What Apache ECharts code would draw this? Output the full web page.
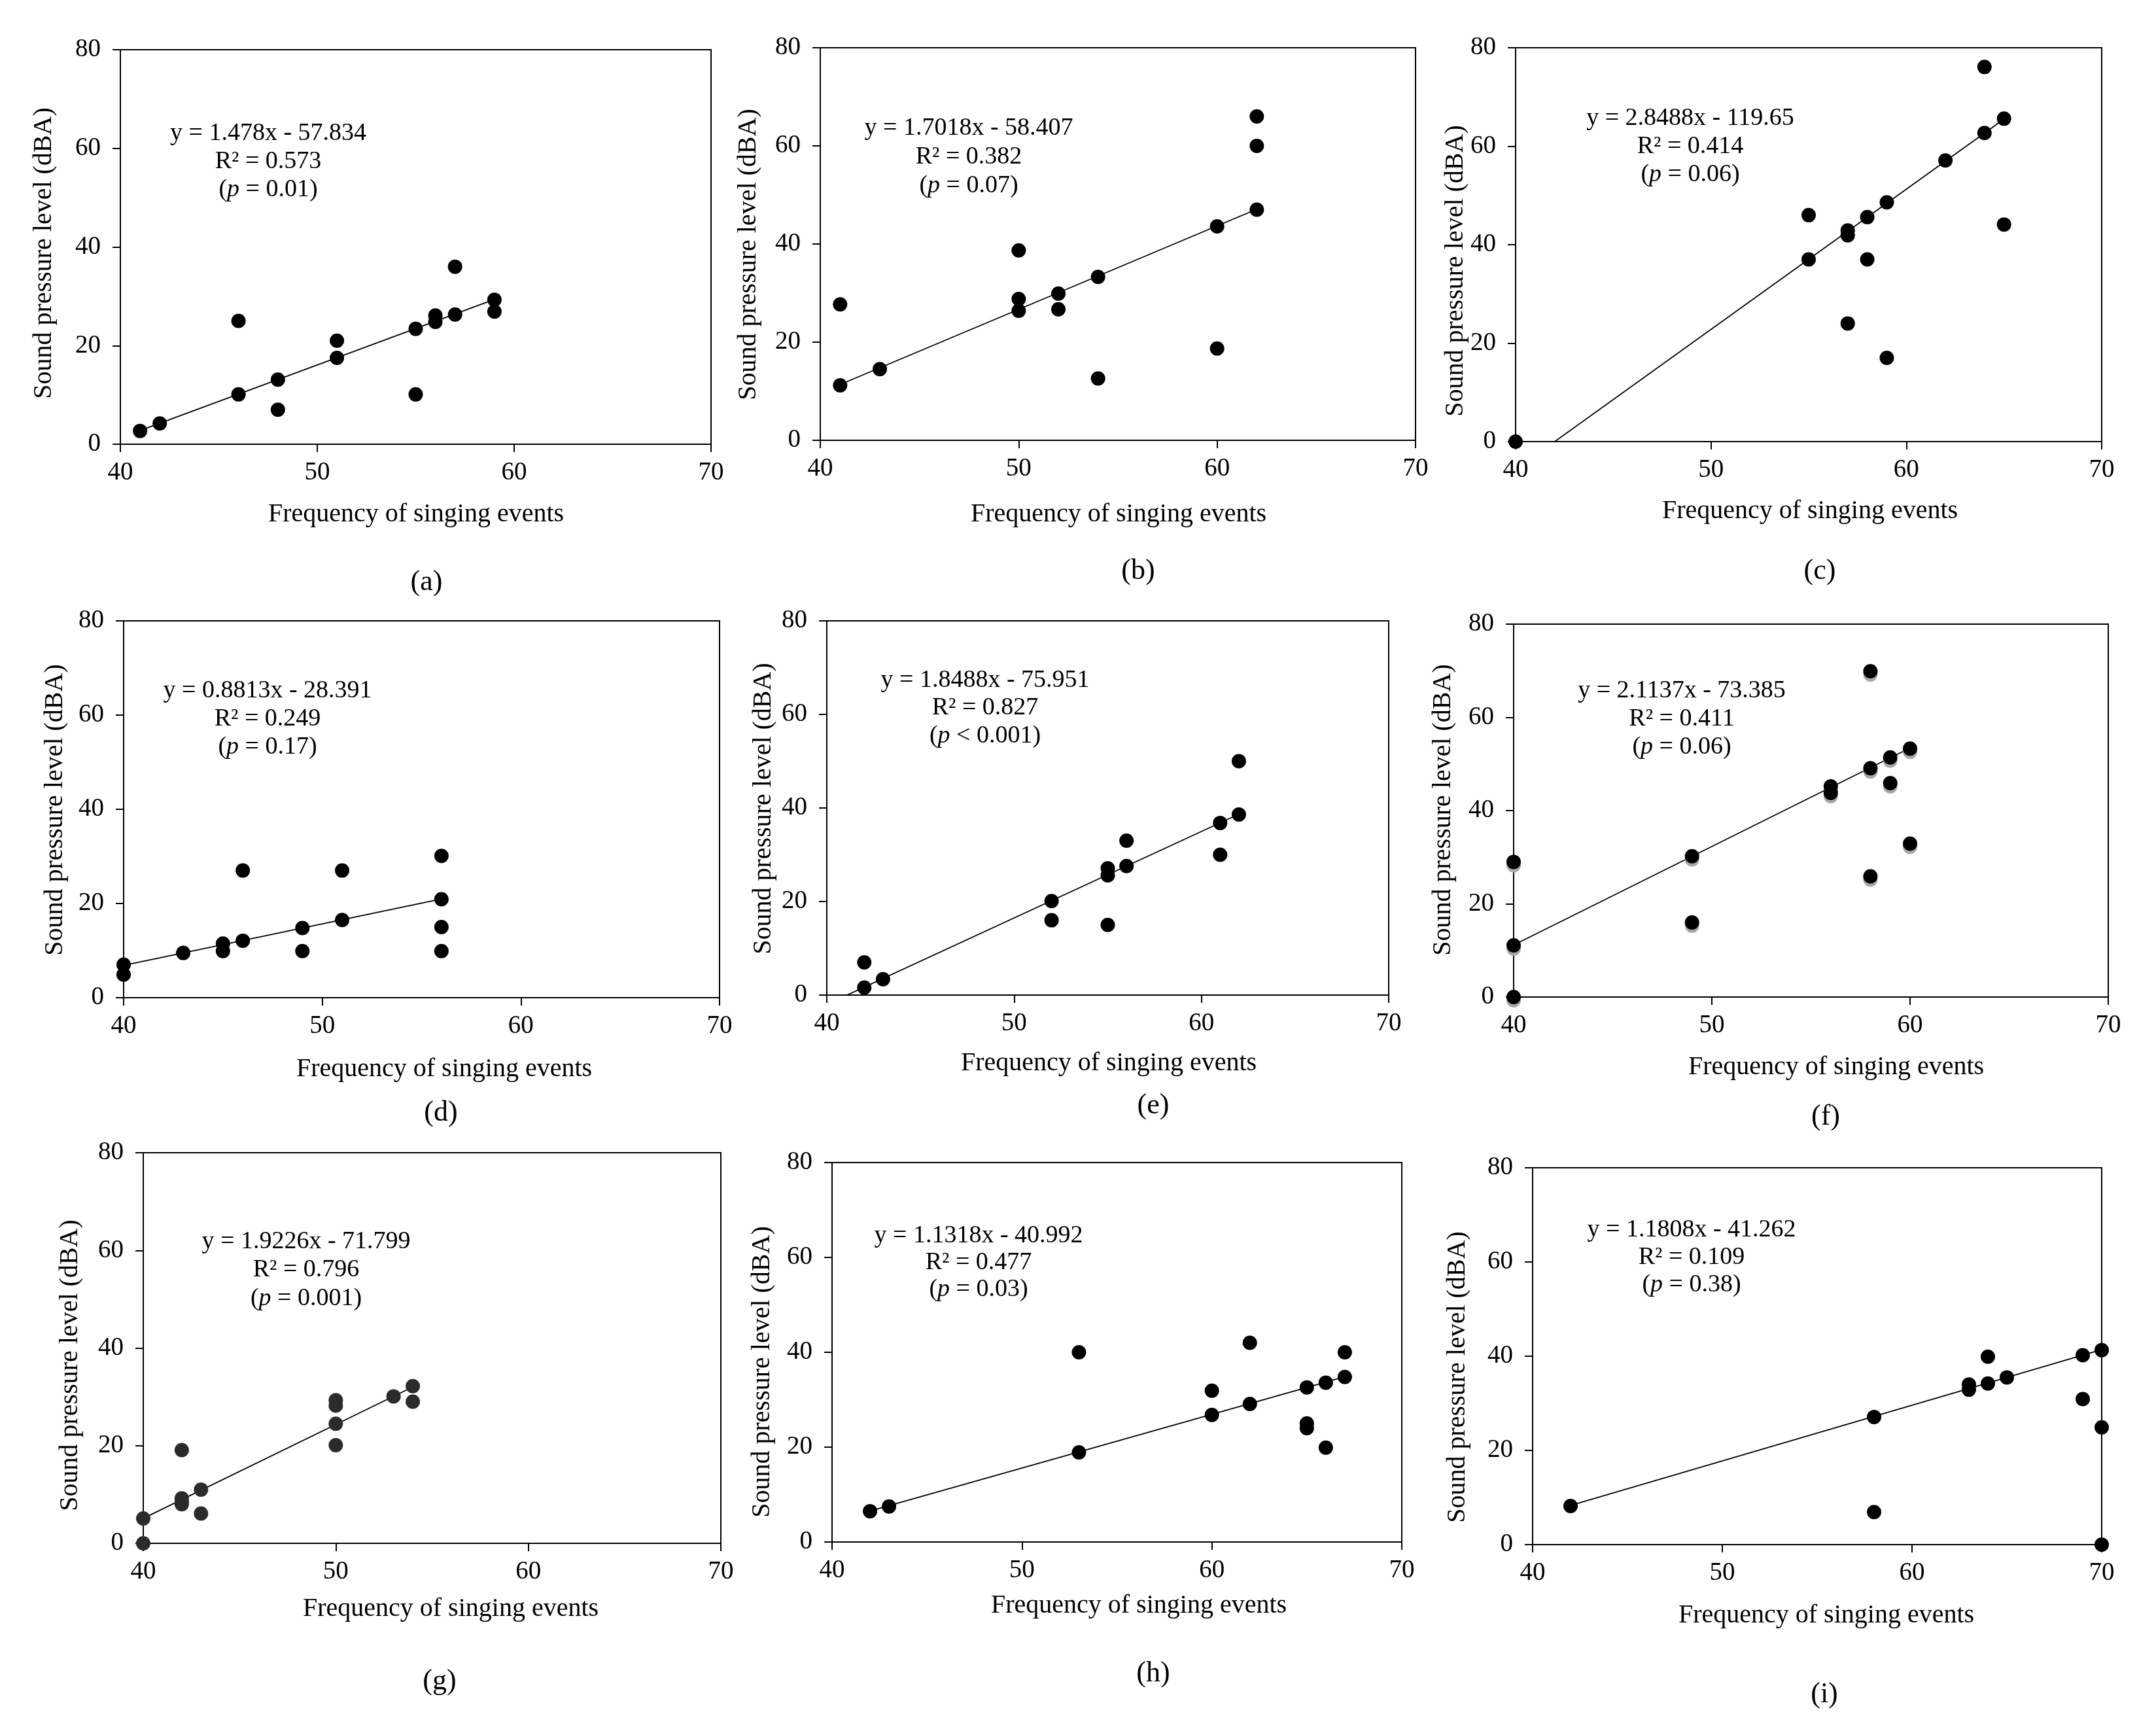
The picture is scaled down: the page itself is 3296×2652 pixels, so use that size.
<!DOCTYPE html>
<html>
<head>
<meta charset="utf-8">
<script src="https://cdn.jsdelivr.net/npm/echarts@6/dist/echarts.min.js"></script>
<style>
html, body { margin: 0; padding: 0; background: #ffffff; }
#main { width: 3296px; height: 2652px; }
</style>
</head>
<body>
<div id="main"></div>
<script>
// data (a)-(i)
var aX = [41, 42, 46, 46, 48, 48, 51, 51, 55, 55, 56, 56, 57, 57, 59, 59];
var aY = [2.7, 4.2, 25, 10.1, 13.1, 7, 21, 17.5, 23.4, 10.1, 26.1, 24.8, 36, 26.3, 29.3, 26.9];
var bX = [41, 41, 43, 50, 50, 50, 52, 52, 54, 54, 60, 60, 62, 62, 62];
var bY = [27.7, 11.2, 14.5, 38.7, 28.8, 26.4, 29.9, 26.7, 33.3, 12.6, 43.6, 18.7, 66, 60, 47];
var cX = [40, 55, 55, 57, 57, 57, 58, 58, 59, 59, 62, 64, 64, 65, 65];
var cY = [0, 46, 37, 42.9, 41.9, 24, 45.6, 37, 48.6, 17, 57.1, 76.1, 62.7, 65.6, 44.1];
var dX = [40, 40, 43, 45, 45, 46, 46, 49, 49, 51, 51, 56, 56, 56, 56];
var dY = [7, 4.9, 9.5, 11.5, 9.9, 27, 12.1, 14.8, 9.9, 27, 16.5, 30.1, 20.9, 15, 9.9];
var eX = [42, 42, 43, 52, 52, 55, 55, 55, 56, 56, 61, 61, 62, 62];
var eY = [7, 1.6, 3.4, 20.1, 16, 27.1, 25.6, 15, 33, 27.6, 36.8, 30, 50, 38.6];
var fX = [40, 40, 40, 49, 49, 56, 56, 58, 58, 58, 59, 59, 60, 60];
var fY = [0, 11.1, 29, 30.2, 16, 45.2, 43.8, 69.9, 49.1, 25.9, 51.4, 45.9, 53.3, 32.9];
var gX = [40, 40, 42, 42, 42, 42, 43, 43, 50, 50, 50, 50, 53, 54, 54];
var gY = [0, 5.1, 19.1, 9.2, 8.5, 8, 11, 6.1, 29.3, 28.2, 24.5, 20.1, 30.1, 32.2, 29];
var hX = [42, 43, 53, 53, 60, 60, 62, 62, 65, 65, 65, 66, 66, 67, 67];
var hY = [6.5, 7.5, 40, 18.9, 31.9, 26.8, 42, 29.1, 32.6, 25, 24, 33.6, 19.9, 40, 34.8];
var iX = [42, 58, 58, 63, 63, 64, 64, 65, 69, 69, 70, 70, 70];
var iY = [8.2, 27.1, 6.9, 34, 32.9, 39.9, 34.2, 35.5, 40.2, 30.9, 41.3, 24.9, 0];

var slopes = [1.478, 1.7018, 2.8488, 0.8813, 1.8488, 2.1137, 1.9226, 1.1318, 1.1808];
var intercepts = [-57.834, -58.407, -119.65, -28.391, -75.951, -73.385, -71.799, -40.992, -41.262];
var rSquared = ['0.573', '0.382', '0.414', '0.249', '0.827', '0.411', '0.796', '0.477', '0.109'];
var pValues = ['= 0.01', '= 0.07', '= 0.06', '= 0.17', '< 0.001', '= 0.06', '= 0.001', '= 0.03', '= 0.38'];
var lineFrom = [41, 41, 40, 40, 40, 40, 40, 42, 42];
var lineTo = [59, 62, 65, 56, 62, 60, 54, 67, 70];
var panelNames = ['(a)', '(b)', '(c)', '(d)', '(e)', '(f)', '(g)', '(h)', '(i)'];

var xTicks = [40, 50, 60, 70];
var yTicks = [0, 20, 40, 60, 80];
var xTitle = 'Frequency of singing events';
var yTitle = 'Sound pressure level (dBA)';

var allX = [aX, bX, cX, dX, eX, fX, gX, hX, iX];
var allY = [aY, bY, cY, dY, eY, fY, gY, hY, iY];

// layout (pixels): plot box [left, top, right, bottom]
var boxes = [
    [184, 76, 1087, 679], [1254, 73, 2164, 673], [2317, 73, 3213, 675],
    [189, 949, 1100, 1525], [1264, 949, 2123, 1521], [2314, 954, 3223, 1524],
    [219, 1762, 1102, 2359], [1272, 1777, 2143, 2357], [2343, 1785, 3213, 2361]
];
var eqPos = [[410, 204, 43], [1481, 196, 44], [2584, 181, 43],
             [409, 1056, 43], [1506, 1040, 42.5], [2571, 1056, 43],
             [468, 1898, 43.5], [1496, 1889, 41], [2586, 1880, 42]];
var xTitlePos = [[636, 786], [1710, 786], [2767, 781], [679, 1634], [1695, 1625], [2807, 1631],
                 [689, 2459], [1741, 2454], [2792, 2469]];
var yTitlePos = [[67, 387], [1144, 389], [2225, 414], [84, 1238], [1167, 1236], [2206, 1238],
                 [107, 2087], [1165, 2097], [2228, 2105]];
var namePos = [[652, 890], [1740, 873], [2782, 873], [674, 1701], [1763, 1690], [2791, 1707],
               [672, 2570], [1763, 2558], [2789, 2590]];

var FONT = '"Liberation Serif", "Times New Roman", serif';

function textEl(x, y, text, size, rotation) {
    return {
        type: 'text',
        x: x,
        y: y,
        rotation: rotation || 0,
        style: {
            text: text,
            fontSize: size,
            fontFamily: FONT,
            fill: '#000',
            align: 'center',
            verticalAlign: 'middle',
            textAlign: 'center',
            textVerticalAlign: 'middle',
            rich: {
                i: { fontSize: size, fontFamily: FONT, fontStyle: 'italic', fill: '#000' },
                n: { fontSize: size, fontFamily: FONT, fill: '#000' }
            }
        }
    };
}

function fmt(v) {
    return String(Math.abs(v));
}

var grids = [], xAxes = [], yAxes = [], series = [], graphics = [];

for (var k = 0; k < 9; k++) {
    var b = boxes[k];
    grids.push({
        left: b[0], top: b[1], width: b[2] - b[0], height: b[3] - b[1],
        show: true, borderColor: '#000', borderWidth: 2, backgroundColor: 'transparent'
    });
    xAxes.push({
        gridIndex: k, type: 'value',
        min: xTicks[0], max: xTicks[xTicks.length - 1], interval: xTicks[1] - xTicks[0],
        axisLine: { onZero: false, lineStyle: { color: '#000', width: 2 } },
        axisTick: { length: 12, lineStyle: { color: '#000', width: 2 } },
        axisLabel: { color: '#000', fontSize: 39, fontFamily: FONT, margin: 24 },
        splitLine: { show: false }
    });
    yAxes.push({
        gridIndex: k, type: 'value',
        min: yTicks[0], max: yTicks[yTicks.length - 1], interval: yTicks[1] - yTicks[0],
        axisLine: { onZero: false, lineStyle: { color: '#000', width: 2 } },
        axisTick: { length: 12, lineStyle: { color: '#000', width: 2 } },
        axisLabel: { color: '#000', fontSize: 39, fontFamily: FONT, margin: 30 },
        splitLine: { show: false }
    });

    var pts = [];
    for (var j = 0; j < allX[k].length; j++) {
        pts.push([allX[k][j], allY[k][j]]);
    }
    var m = slopes[k], c = intercepts[k];
    series.push({
        type: 'line',
        xAxisIndex: k, yAxisIndex: k,
        data: [[lineFrom[k], m * lineFrom[k] + c], [lineTo[k], m * lineTo[k] + c]],
        symbol: 'none',
        clip: true,
        silent: true,
        lineStyle: { color: '#000', width: 1.8 },
        z: 2
    });
    var dotStyle = { color: k === 6 ? '#2b2b2b' : '#000', opacity: 1 };
    if (k === 5) {
        // panel (f) dots carry a grey drop shadow
        dotStyle.shadowColor = '#a8a8a8';
        dotStyle.shadowBlur = 0;
        dotStyle.shadowOffsetY = 5;
    }
    series.push({
        type: 'scatter',
        xAxisIndex: k, yAxisIndex: k,
        data: pts,
        symbol: 'circle',
        symbolSize: 22,
        clip: false,
        itemStyle: dotStyle,
        z: 3
    });

    var e = eqPos[k];
    graphics.push(textEl(e[0], e[1], 'y = ' + fmt(m) + 'x - ' + fmt(c), 38));
    graphics.push(textEl(e[0], e[1] + e[2], 'R\u00B2 = ' + rSquared[k], 38));
    graphics.push(textEl(e[0], e[1] + 2 * e[2], '{n|(}{i|p}{n| ' + pValues[k] + ')}', 38));
    graphics.push(textEl(xTitlePos[k][0], xTitlePos[k][1], xTitle, 40));
    graphics.push(textEl(yTitlePos[k][0], yTitlePos[k][1], yTitle, 40, Math.PI / 2));
    graphics.push(textEl(namePos[k][0], namePos[k][1], panelNames[k], 44));
}

var chart = echarts.init(document.getElementById('main'));
chart.setOption({
    backgroundColor: '#ffffff',
    animation: false,
    grid: grids,
    xAxis: xAxes,
    yAxis: yAxes,
    series: series,
    graphic: graphics
});
</script>
</body>
</html>
